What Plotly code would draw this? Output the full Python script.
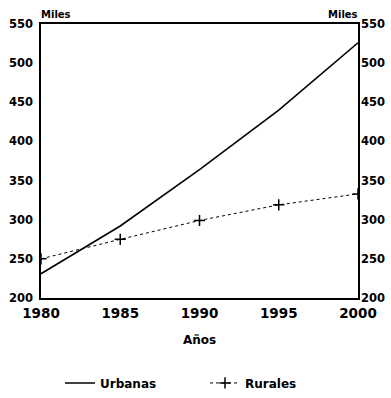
import plotly.graph_objects as go

# Population (thousands), 1980-2000
years = [1980, 1985, 1990, 1995, 2000]
urbanas = [231, 292, 364, 440, 526]
rurales = [250, 275, 299, 319, 333]

x_ticks = [1980, 1985, 1990, 1995, 2000]
y_ticks = [200, 250, 300, 350, 400, 450, 500, 550]

FONT = "DejaVu Sans"

fig = go.Figure()
fig.add_trace(go.Scatter(
    x=years, y=urbanas, name="Urbanas", mode="lines",
    line=dict(color="black", width=1.6),
))
fig.add_trace(go.Scatter(
    x=years, y=rurales, name="Rurales", mode="lines+markers",
    line=dict(color="black", width=1, dash="dot"),
    marker=dict(symbol="cross-thin", size=8, line=dict(color="black", width=1.5)),
))
# carrier trace so the right-hand axis is drawn
fig.add_trace(go.Scatter(
    x=years, y=rurales, yaxis="y2", mode="lines",
    line=dict(color="rgba(0,0,0,0)"), showlegend=False, hoverinfo="skip",
))

axis_font = dict(family=FONT, size=11.5, color="black", weight="bold")

fig.update_layout(
    width=391, height=398,
    margin=dict(l=41, r=33, t=24, b=100, autoexpand=False),
    paper_bgcolor="white", plot_bgcolor="white",
    font=dict(family=FONT, color="black"),
    xaxis=dict(
        range=[1980, 2000], tickvals=x_ticks, ticktext=[str(v) for v in x_ticks],
        showgrid=False, zeroline=False, showline=True, linecolor="black",
        linewidth=1.5, mirror=True, ticks="", ticklabelstandoff=2,
        tickfont=dict(family=FONT, size=13.5, color="black", weight="bold"),
    ),
    yaxis=dict(
        range=[200, 550], tickvals=y_ticks, showgrid=False, zeroline=False,
        showline=True, linecolor="black", linewidth=1.5, mirror=True,
        ticks="", tickfont=axis_font, ticklabelstandoff=4,
    ),
    yaxis2=dict(
        range=[200, 550], tickvals=y_ticks, overlaying="y", side="right",
        showgrid=False, zeroline=False, showline=False, ticks="",
        tickfont=axis_font, ticklabelstandoff=2,
    ),
    legend=dict(
        orientation="h", x=0.06, xanchor="left", y=-0.31, yanchor="middle",
        font=dict(family=FONT, size=12, color="black", weight="bold"),
        itemwidth=30, entrywidth=100, entrywidthmode="pixels",
    ),
    showlegend=True,
)

fig.add_annotation(text="Años", xref="paper", yref="paper", x=0.5, y=-0.153,
                   showarrow=False, yanchor="middle",
                   font=dict(family=FONT, size=12, color="black", weight="bold"))
fig.add_annotation(text="Miles", xref="paper", yref="paper", x=0.0, y=1.035,
                   showarrow=False, yanchor="middle", xanchor="left", xshift=-2,
                   font=dict(family=FONT, size=10, color="black", weight="bold"))
fig.add_annotation(text="Miles", xref="paper", yref="paper", x=1.0, y=1.035,
                   showarrow=False, yanchor="middle", xanchor="right", xshift=2,
                   font=dict(family=FONT, size=10, color="black", weight="bold"))

fig.write_html("out.html")
